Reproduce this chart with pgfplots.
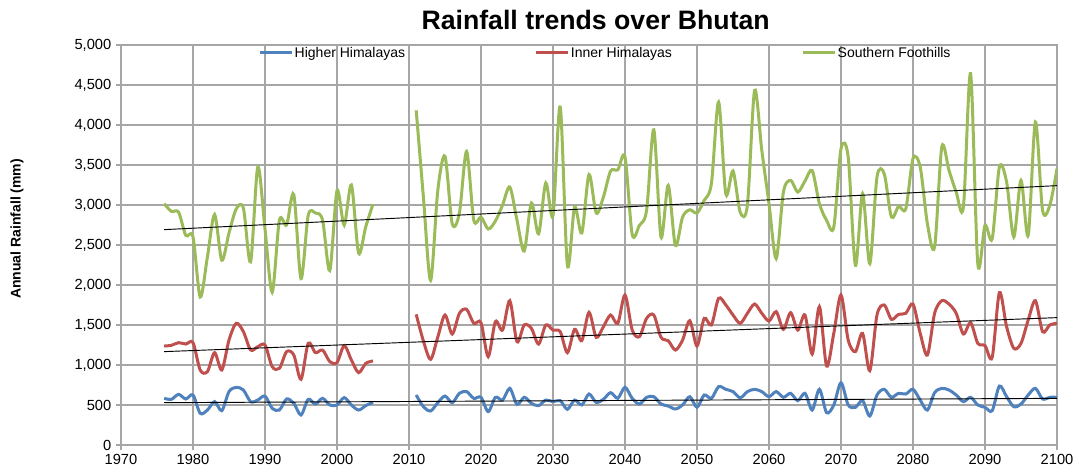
\documentclass[border=0pt]{standalone}
\usepackage{pgfplots}
\pgfplotsset{compat=1.18}
\usepackage{pgfplotstable}
\usepackage{fontspec}
\setmainfont{Liberation Sans}

\definecolor{hh}{HTML}{4F81BD}
\definecolor{ih}{HTML}{C0504D}
\definecolor{sf}{HTML}{9BBB59}
\definecolor{gridgray}{HTML}{A6A6A6}

% Higher Himalayas
\pgfplotstableread{
year rain
1976 583
1977 571
1978 633
1979 575
1980 625
1981 396
1982 437
1983 542
1984 429
1985 667
1986 721
1987 687
1988 542
1989 562
1990 612
1991 458
1992 437
1993 575
1994 521
1995 375
1996 571
1997 512
1998 583
1999 500
2000 500
2001 592
2002 500
2003 437
2004 492
2005 533
}\hhA
\pgfplotstableread{
year rain
2011 625
2012 479
2013 425
2014 529
2015 612
2016 529
2017 646
2018 667
2019 583
2020 596
2021 417
2022 596
2023 562
2024 708
2025 508
2026 596
2027 521
2028 492
2029 562
2030 542
2031 554
2032 446
2033 562
2034 500
2035 637
2036 533
2037 571
2038 654
2039 583
2040 721
2041 583
2042 512
2043 596
2044 604
2045 512
2046 487
2047 450
2048 500
2049 604
2050 471
2051 625
2052 583
2053 729
2054 696
2055 667
2056 590
2057 667
2058 696
2059 667
2060 604
2061 667
2062 596
2063 646
2064 554
2065 646
2066 437
2067 696
2068 404
2069 500
2070 779
2071 500
2072 471
2073 554
2074 362
2075 625
2076 696
2077 596
2078 646
2079 637
2080 696
2081 562
2082 437
2083 654
2084 708
2085 687
2086 625
2087 542
2088 596
2089 500
2090 471
2091 429
2092 737
2093 604
2094 479
2095 512
2096 625
2097 708
2098 575
2099 596
2100 596
}\hhB

% Inner Himalayas
\pgfplotstableread{
year rain
1976 1237
1977 1246
1978 1279
1979 1262
1980 1279
1981 937
1982 917
1983 1154
1984 937
1985 1312
1986 1521
1987 1417
1988 1187
1989 1229
1990 1250
1991 979
1992 958
1993 1167
1994 1125
1995 821
1996 1271
1997 1154
1998 1187
1999 1042
2000 1029
2001 1242
2002 1062
2003 904
2004 1021
2005 1050
}\ihA
\pgfplotstableread{
year rain
2011 1633
2012 1300
2013 1071
2014 1350
2015 1625
2016 1387
2017 1646
2018 1696
2019 1521
2020 1529
2021 1104
2022 1542
2023 1437
2024 1804
2025 1292
2026 1500
2027 1458
2028 1262
2029 1500
2030 1437
2031 1417
2032 1154
2033 1446
2034 1304
2035 1658
2036 1346
2037 1479
2038 1625
2039 1521
2040 1875
2041 1437
2042 1354
2043 1583
2044 1625
2045 1346
2046 1304
2047 1187
2048 1312
2049 1554
2050 1237
2051 1583
2052 1500
2053 1833
2054 1750
2055 1625
2056 1521
2057 1646
2058 1762
2059 1646
2060 1550
2061 1667
2062 1446
2063 1654
2064 1437
2065 1625
2066 1137
2067 1729
2068 987
2069 1396
2070 1875
2071 1312
2072 1167
2073 1396
2074 929
2075 1625
2076 1750
2077 1571
2078 1633
2079 1646
2080 1762
2081 1396
2082 1125
2083 1646
2084 1804
2085 1762
2086 1646
2087 1387
2088 1529
2089 1271
2090 1242
2091 1096
2092 1904
2093 1479
2094 1208
2095 1271
2096 1562
2097 1804
2098 1417
2099 1500
2100 1521
}\ihB

% Southern Foothills
\pgfplotstableread{
year rain
1976 3017
1977 2920
1978 2910
1979 2620
1980 2600
1981 1850
1982 2350
1983 2880
1984 2310
1985 2650
1986 2950
1987 2960
1988 2290
1989 3475
1990 2700
1991 1910
1992 2810
1993 2750
1994 3130
1995 2080
1996 2870
1997 2900
1998 2810
1999 2180
2000 3180
2001 2750
2002 3250
2003 2400
2004 2730
2005 3010
}\sfA
\pgfplotstableread{
year rain
2011 4183
2012 3100
2013 2058
2014 3183
2015 3608
2016 2767
2017 2900
2018 3670
2019 2810
2020 2850
2021 2700
2022 2800
2023 3000
2024 3225
2025 2810
2026 2425
2027 3025
2028 2640
2029 3275
2030 2870
2031 4225
2032 2246
2033 2975
2034 2650
2035 3380
2036 2900
2037 3100
2038 3425
2039 3440
2040 3600
2041 2633
2042 2746
2043 2933
2044 3940
2045 2600
2046 3245
2047 2496
2048 2850
2049 2940
2050 2900
2051 3058
2052 3267
2053 4287
2054 3140
2055 3425
2056 2910
2057 3000
2058 4433
2059 3683
2060 3017
2061 2330
2062 3162
2063 3308
2064 3162
2065 3300
2066 3430
2067 3017
2068 2808
2069 2725
2070 3704
2071 3600
2072 2246
2073 3142
2074 2267
2075 3350
2076 3392
2077 2850
2078 2983
2079 2954
2080 3580
2081 3475
2082 2767
2083 2475
2084 3725
2085 3433
2086 3162
2087 2975
2088 4642
2089 2267
2090 2746
2091 2579
2092 3475
2093 3287
2094 2600
2095 3308
2096 2621
2097 4037
2098 2933
2099 2996
2100 3454
}\sfB

\begin{document}
\begin{tikzpicture}
\begin{axis}[
    name=ax,
    scale only axis,
    width=702pt, height=300pt,
    xmin=1970, xmax=2100,
    ymin=0, ymax=5000,
    xtick distance=10,
    ytick distance=500,
    scaled ticks=false,
    grid=major,
    major grid style={gridgray, line width=0.9pt},
    axis line style={gridgray, line width=0.9pt},
    tick style={gridgray, line width=0.9pt},
    tick align=outside,
    major tick length=3.75pt,
    xtick pos=left, ytick pos=left,
    /pgf/number format/assume math mode=true,
    tick label style={font=\fontsize{11}{13}\selectfont},
    x tick label style={/pgf/number format/1000 sep={}},
    y tick label style={/pgf/number format/1000 sep={,}},
    legend columns=3,
    legend style={draw=none, fill=none, at={(0.1465,0.98)}, anchor=west,
        inner sep=0pt, font=\fontsize{10.5}{12}\selectfont,
        nodes={inner xsep=1pt},
        /tikz/every even column/.append style={column sep=96pt}},
    legend image code/.code={\draw[#1] (0pt,0pt) -- (24pt,0pt);},
    every axis plot/.append style={smooth, tension=0.5, line width=2.25pt},
]
\addplot[hh] table[x=year, y=rain] {\hhA};
\addlegendentry{Higher Himalayas}
\addplot[ih] table[x=year, y=rain] {\ihA};
\addlegendentry{Inner Himalayas}
\addplot[sf] table[x=year, y=rain] {\sfA};
\addlegendentry{Southern Foothills}
\addplot[hh, forget plot] table[x=year, y=rain] {\hhB};
\addplot[ih, forget plot] table[x=year, y=rain] {\ihB};
\addplot[sf, forget plot] table[x=year, y=rain] {\sfB};
% linear trends
\addplot[black, line width=0.7pt, sharp plot, forget plot] coordinates {(1976,2692) (2100,3242)};
\addplot[black, line width=0.7pt, sharp plot, forget plot] coordinates {(1976,1167) (2100,1592)};
\addplot[black, line width=0.7pt, sharp plot, forget plot] coordinates {(1976,529) (2100,583)};
\end{axis}
\node[anchor=base, font=\fontsize{20}{24}\selectfont\bfseries]
    at ([xshift=5pt, yshift=11.6pt]ax.north) {Rainfall trends over Bhutan};
\node[rotate=90, anchor=center, font=\fontsize{10.5}{12}\selectfont\bfseries]
    at ([xshift=-78pt, yshift=12pt]ax.west) {Annual Rainfall (mm)};
\pgfresetboundingbox
\path[use as bounding box] ([xshift=-90.75pt, yshift=-21pt]ax.south west)
    rectangle ([xshift=16.5pt, yshift=33.75pt]ax.north east);
\end{tikzpicture}
\end{document}
